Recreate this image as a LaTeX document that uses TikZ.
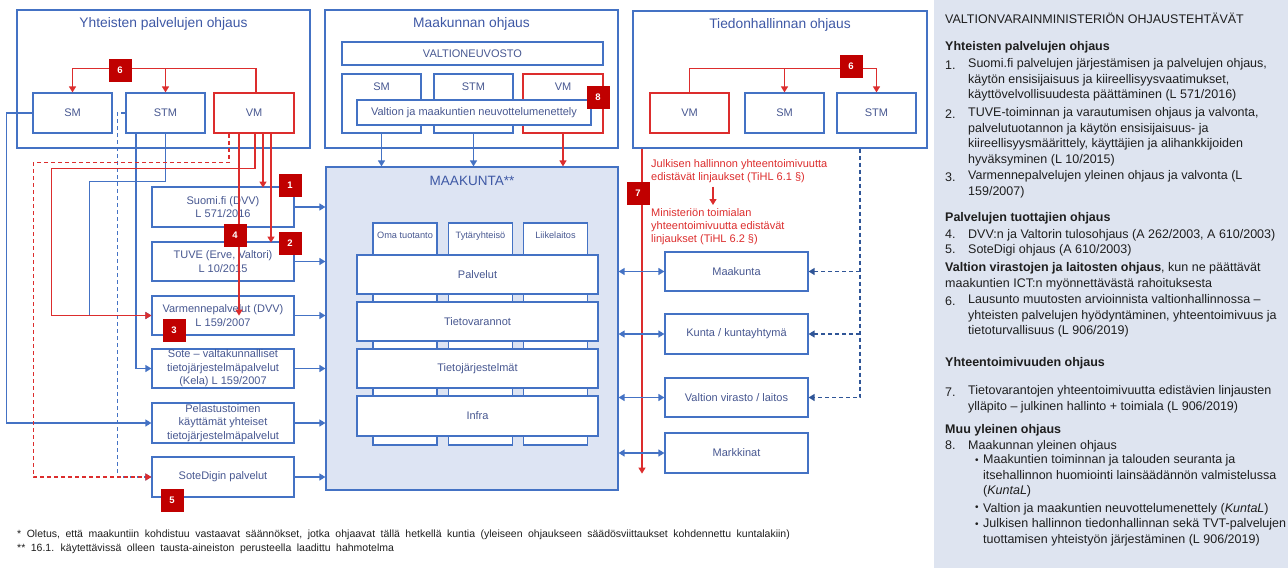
\documentclass[tikz,border=0pt]{standalone}
\usepackage{fontspec}
\setmainfont{Liberation Sans}
\usetikzlibrary{arrows.meta}
\usetikzlibrary{positioning}
\usetikzlibrary{calc}

\definecolor{lineblue}{RGB}{68,114,196}
\definecolor{darkblue}{RGB}{47,85,151}
\definecolor{boxtext}{RGB}{72,88,145}
\definecolor{titleblue}{RGB}{62,88,165}
\definecolor{redline}{RGB}{220,45,45}
\definecolor{badgered}{RGB}{192,0,0}
\definecolor{maakfill}{RGB}{221,228,243}
\definecolor{panelfill}{RGB}{222,228,240}
\definecolor{paneltext}{RGB}{30,30,30}

\newcommand\widespaces{\spaceskip=5.5pt\relax}
\newcommand\listbullet{\raisebox{2pt}{\fontsize{10}{10}\selectfont •}}

\tikzset{block/.style={draw=lineblue, fill=white, line width=1.2pt, text=boxtext, align=center, inner sep=0pt, font=\fontsize{11}{13.5}\selectfont}}
\tikzset{redblock/.style={block, draw=redline}}
\tikzset{group/.style={draw=lineblue, line width=1.2pt, inner sep=0pt}}
\tikzset{grouptitle/.style={text=titleblue, font=\fontsize{13.8}{16}\selectfont, inner sep=0pt}}
\tikzset{boxlabel/.style={anchor=north, yshift=-9pt, text=boxtext, font=\fontsize{11}{13}\selectfont, inner sep=0pt}}
\tikzset{collabel/.style={anchor=north, yshift=-9pt, text=boxtext, font=\fontsize{9.2}{11}\selectfont, inner sep=0pt}}
\tikzset{badge/.style={fill=badgered, text=white, font=\bfseries\fontsize{9.5}{9.5}\selectfont, minimum width=23pt, minimum height=23pt, inner sep=0pt}}
\tikzset{connect/.style={draw=lineblue, line width=1.3pt}}
\tikzset{rconnect/.style={draw=redline, line width=1.3pt}}
\tikzset{dconnect/.style={draw=darkblue, line width=1.3pt, dash pattern=on 4pt off 3pt}}
\tikzset{redtext/.style={text=redline, align=left, inner sep=0pt, font=\fontsize{11}{13}\selectfont}}
\tikzset{ptext/.style={anchor=north west, align=left, inner sep=0pt, text=paneltext, font=\fontsize{12.5}{15.7}\selectfont, execute at begin node=\strut}}
\tikzset{note/.style={anchor=west, inner sep=0pt, text=paneltext, font=\fontsize{10.5}{12}\selectfont, execute at begin node=\widespaces}}

\begin{document}
\begin{tikzpicture}[x=1pt,y=-1pt,>={Triangle[width=7pt,length=6pt]}]
\useasboundingbox (0,0) rectangle (1288,568);

%ohjaus groups
\node[group,minimum width=293pt,minimum height=138pt] (yhteiset) at (163.5,79) {};
\node[grouptitle] (yhteisettitle) at (163.5,24) {Yhteisten palvelujen ohjaus};
\node[block,minimum width=79pt,minimum height=40pt] (ysm) at (72.5,113) {SM};
\node[block,minimum width=79pt,minimum height=40pt] (ystm) at (165.5,113) {STM};
\node[redblock,minimum width=80pt,minimum height=40pt] (yvm) at (254,113) {VM};

\node[group,minimum width=293pt,minimum height=138pt] (maakohjaus) at (471.5,79) {};
\node[grouptitle] (maakohjaustitle) at (471.5,24) {Maakunnan ohjaus};
\node[block,minimum width=261pt,minimum height=23pt] (vn) at (472.5,53.5) {VALTIONEUVOSTO};
\node[block,minimum width=79pt,minimum height=59pt,label={[boxlabel]north:SM}] (msm) at (381.5,103.5) {};
\node[block,minimum width=79pt,minimum height=59pt,label={[boxlabel]north:STM}] (mstm) at (473.5,103.5) {};
\node[redblock,minimum width=80pt,minimum height=59pt,label={[boxlabel]north:VM}] (mvm) at (563,103.5) {};
\node[block,minimum width=234pt,minimum height=25pt] (neuvottelu) at (474,112.5) {Valtion ja maakuntien neuvottelumenettely};

\node[group,minimum width=294pt,minimum height=137pt] (tieto) at (780,79.5) {};
\node[grouptitle] (tietotitle) at (780,25) {Tiedonhallinnan ohjaus};
\node[redblock,minimum width=79pt,minimum height=40pt] (tvm) at (689.5,113) {VM};
\node[block,minimum width=79pt,minimum height=40pt] (tsm) at (784.5,113) {SM};
\node[block,minimum width=79pt,minimum height=40pt] (tstm) at (876.5,113) {STM};

%maakunta
\node[block,fill=maakfill,minimum width=292pt,minimum height=323pt] (maakunta) at (472,328.5) {};
\node[grouptitle,font=\fontsize{13.5}{15}\selectfont] (maakuntatitle) at (472,181) {MAAKUNTA**};
\node[block,minimum width=64pt,minimum height=222pt,label={[collabel]north:Oma tuotanto}] (oma) at (405,334) {};
\node[block,minimum width=64pt,minimum height=222pt,label={[collabel]north:Tytäryhteisö}] (tytar) at (480.5,334) {};
\node[block,minimum width=64pt,minimum height=222pt,label={[collabel]north:Liikelaitos}] (liike) at (555.5,334) {};
\node[block,minimum width=241pt,minimum height=39pt] (palvelut) at (477.5,274.5) {Palvelut};
\node[block,minimum width=241pt,minimum height=39pt] (tietovarannot) at (477.5,321.5) {Tietovarannot};
\node[block,minimum width=241pt,minimum height=39pt] (tietojarj) at (477.5,368.5) {Tietojärjestelmät};
\node[block,minimum width=241pt,minimum height=40pt] (infra) at (477.5,416) {Infra};

%palvelut
\node[block,minimum width=142pt,minimum height=40pt] (suomifi) at (223,207) {Suomi.fi (DVV)\\L 571/2016};
\node[block,minimum width=142pt,minimum height=39pt] (tuve) at (223,261.5) {TUVE (Erve, Valtori)\\L 10/2015};
\node[block,minimum width=142pt,minimum height=39pt] (varmenne) at (223,315.5) {Varmennepalvelut (DVV)\\L 159/2007};
\node[block,minimum width=142pt,minimum height=39pt] (sote) at (223,368.5) {Sote -- valtakunnalliset\\tietojärjestelmäpalvelut\\(Kela) L 159/2007};
\node[block,minimum width=142pt,minimum height=40pt] (pelastus) at (223,423) {Pelastustoimen\\käyttämät yhteiset\\tietojärjestelmäpalvelut};
\node[block,minimum width=142pt,minimum height=40pt] (sotedigi) at (223,477) {SoteDigin palvelut};

%toimijat
\node[block,minimum width=143pt,minimum height=39pt] (rmaakunta) at (736.5,271.5) {Maakunta};
\node[block,minimum width=143pt,minimum height=40pt] (kunta) at (736.5,334) {Kunta / kuntayhtymä};
\node[block,minimum width=143pt,minimum height=39pt] (virasto) at (736.5,397.5) {Valtion virasto / laitos};
\node[block,minimum width=143pt,minimum height=40pt] (markkinat) at (736.5,453) {Markkinat};

%yhteiset palvelut, sininen
\path[connect,->] (ysm.west) -- ++(-26,0) |- (pelastus.west);
\path[connect,->] ([xshift=-29.5pt]ystm.south) |- (sote.west);
\path[connect,->] (ystm.south) -- ++(0,48) -| ([xshift=-62pt]varmenne.west) -- (varmenne.west);
\path[connect,dash pattern=on 4pt off 3pt,->] (ystm.west) -- ++(-8,0) |- (sotedigi.west);

%yhteiset palvelut, VM
\path[rconnect,dash pattern=on 4pt off 3pt,->] ([xshift=-25pt]yvm.south) -- ++(0,29) -| ([xshift=-118pt]sotedigi.west) -- (sotedigi.west);
\path[rconnect,->] ([xshift=1pt]yvm.south) -- ++(0,35) -| ([xshift=-100pt]varmenne.west) -- (varmenne.west);
\path[rconnect,->] ([xshift=-15pt]yvm.south) -- ++(0,182);
\path[rconnect,->] ([xshift=9pt]yvm.south) -- ++(0,54);
\path[rconnect,->] ([xshift=17pt]yvm.south) -- ++(0,109);
\path[rconnect,->] ([xshift=2pt]yvm.north) -- ++(0,-24) -| (ysm.north);
\path[rconnect,->] ([yshift=24pt]ystm.north) -- (ystm.north);

%palvelut -> maakunta
\path[connect,->] (suomifi.east) -- (suomifi.east -| maakunta.west);
\path[connect,->] (tuve.east) -- (tuve.east -| maakunta.west);
\path[connect,->] (varmenne.east) -- (varmenne.east -| maakunta.west);
\path[connect,->] (sote.east) -- (sote.east -| maakunta.west);
\path[connect,->] (pelastus.east) -- (pelastus.east -| maakunta.west);
\path[connect,->] (sotedigi.east) -- (sotedigi.east -| maakunta.west);

%maakunnan ohjaus
\path[connect,->] (msm.south) -- (msm.south |- maakunta.north);
\path[connect,->] (mstm.south) -- (mstm.south |- maakunta.north);
\path[rconnect,->] (mvm.south) -- (mvm.south |- maakunta.north);

%tiedonhallinta
\path[rconnect,->] (tvm.north) -- ++(0,-24) -| (tstm.north);
\path[rconnect,->] ([yshift=24pt]tsm.north) -- (tsm.north);
\coordinate (line7top) at ([xshift=-138pt]tieto.south);
\path[rconnect,->] (line7top) -- (line7top |- markkinat.south);
\node[redtext,anchor=north west] (linjaus1) at (651,159) {Julkisen hallinnon yhteentoimivuutta\\edistävät linjaukset (TiHL 6.1 §)};
\node[redtext,anchor=north west] (linjaus2) at (651,208) {Ministeriön toimialan\\yhteentoimivuutta edistävät\\linjaukset (TiHL 6.2 §)};
\path[rconnect,->] ([xshift=62pt,yshift=-4pt]linjaus1.south west) -- ([xshift=62pt,yshift=3pt]linjaus2.north west);
\coordinate (dashtop) at ([xshift=80pt]tieto.south);
\path[dconnect,->] (dashtop) |- (virasto.east);
\path[dconnect,->] (dashtop |- rmaakunta.east) -- (rmaakunta.east);
\path[dconnect,->] (dashtop |- kunta.east) -- (kunta.east);

%toimijat <-> maakunta
\path[connect,<->] (rmaakunta.west -| maakunta.east) -- (rmaakunta.west);
\path[connect,<->] (kunta.west -| maakunta.east) -- (kunta.west);
\path[connect,<->] (virasto.west -| maakunta.east) -- (virasto.west);
\path[connect,<->] (markkinat.west -| maakunta.east) -- (markkinat.west);

%numerot
\node[badge] (b1) at (290,185) {1};
\node[badge] (b2) at (290,243) {2};
\node[badge] (b3) at (174,330) {3};
\node[badge] (b4) at (235,235) {4};
\node[badge] (b5) at (172,500) {5};
\node[badge] (b6y) at (120,70) {6};
\node[badge] (b6t) at (851,66) {6};
\node[badge] (b7) at (638,193) {7};
\node[badge] (b8) at (598,97) {8};

%alaviitteet
\node[note] (note1) at (17,535) {* Oletus, että maakuntiin kohdistuu vastaavat säännökset, jotka ohjaavat tällä hetkellä kuntia (yleiseen ohjaukseen säädösviittaukset kohdennettu kuntalakiin)};
\node[note] (note2) at (17,549) {** 16.1. käytettävissä olleen tausta-aineiston perusteella laadittu hahmotelma};

%VM:n ohjaustehtävät
\node[fill=panelfill,minimum width=354pt,minimum height=568pt,inner sep=0pt] (panel) at (1111,284) {};
\node[ptext] (ptitle) at (945,12.3) {VALTIONVARAINMINISTERIÖN OHJAUSTEHTÄVÄT};
\node[ptext,font=\bfseries\fontsize{12.5}{15.7}\selectfont] (ph1) at (945,39.3) {Yhteisten palvelujen ohjaus};
\node[ptext] (pn1) at (945,58.3) {1.};
\node[ptext] (pt1) at (968,58.3) {Suomi.fi palvelujen järjestämisen ja palvelujen ohjaus,\\käytön ensisijaisuus ja kiireellisyysvaatimukset,\\käyttövelvollisuudesta päättäminen (L 571/2016)};
\node[ptext] (pn2) at (945,107.3) {2.};
\node[ptext] (pt2) at (968,107.3) {TUVE-toiminnan ja varautumisen ohjaus ja valvonta,\\palvelutuotannon ja käytön ensisijaisuus- ja\\kiireellisyysmäärittely, käyttäjien ja alihankkijoiden\\hyväksyminen (L 10/2015)};
\node[ptext] (pn3) at (945,170.3) {3.};
\node[ptext] (pt3) at (968,170.3) {Varmennepalvelujen yleinen ohjaus ja valvonta (L\\159/2007)};
\node[ptext,font=\bfseries\fontsize{12.5}{15.7}\selectfont] (ph2) at (945,210.3) {Palvelujen tuottajien ohjaus};
\node[ptext] (pn4) at (945,227.3) {4.};
\node[ptext] (pt4) at (968,227.3) {DVV:n ja Valtorin tulosohjaus (A 262/2003, A 610/2003)};
\node[ptext] (pn5) at (945,242.3) {5.};
\node[ptext] (pt5) at (968,242.3) {SoteDigi ohjaus (A 610/2003)};
\node[ptext] (pv) at (945,262.3) {\textbf{Valtion virastojen ja laitosten ohjaus}, kun ne päättävät\\maakuntien ICT:n myönnettävästä rahoituksesta};
\node[ptext] (pn6) at (945,294.3) {6.};
\node[ptext] (pt6) at (968,294.3) {Lausunto muutosten arvioinnista valtionhallinnossa --\\yhteisten palvelujen hyödyntäminen, yhteentoimivuus ja\\tietoturvallisuus (L 906/2019)};
\node[ptext,font=\bfseries\fontsize{12.5}{15.7}\selectfont] (ph3) at (945,355.3) {Yhteentoimivuuden ohjaus};
\node[ptext] (pn7) at (945,385.3) {7.};
\node[ptext] (pt7) at (968,385.3) {Tietovarantojen yhteentoimivuutta edistävien linjausten\\ylläpito -- julkinen hallinto + toimiala (L 906/2019)};
\node[ptext,font=\bfseries\fontsize{12.5}{15.7}\selectfont] (ph4) at (945,422.3) {Muu yleinen ohjaus};
\node[ptext] (pn8) at (945,438.3) {8.};
\node[ptext] (pt8) at (968,438.3) {Maakunnan yleinen ohjaus};
\node[ptext] (pb1) at (975,454.3) {\listbullet};
\node[ptext] (pbt1) at (983,454.3) {Maakuntien toiminnan ja talouden seuranta ja\\itsehallinnon huomiointi lainsäädännön valmistelussa\\(\textit{KuntaL})};
\node[ptext] (pb2) at (975,501.3) {\listbullet};
\node[ptext] (pbt2) at (983,501.3) {Valtion ja maakuntien neuvottelumenettely (\textit{KuntaL})};
\node[ptext] (pb3) at (975,518.3) {\listbullet};
\node[ptext] (pbt3) at (983,518.3) {Julkisen hallinnon tiedonhallinnan sekä TVT-palvelujen\\tuottamisen yhteistyön järjestäminen (L 906/2019)};

\end{tikzpicture}
\end{document}
